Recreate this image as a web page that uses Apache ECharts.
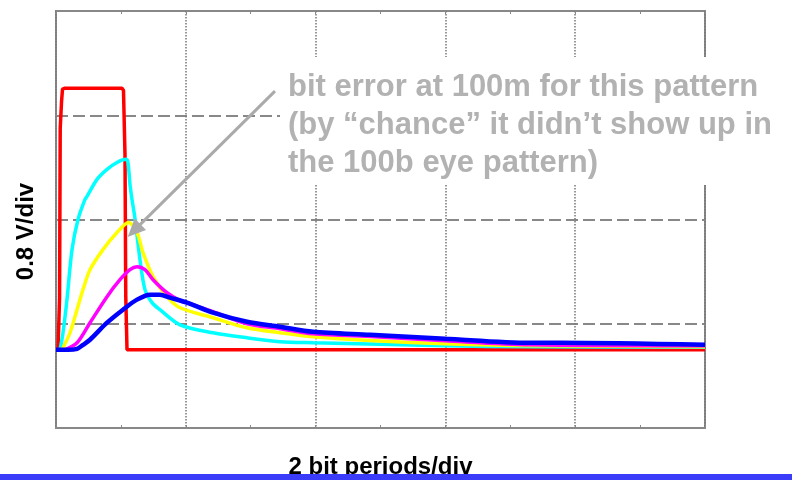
<!DOCTYPE html>
<html>
<head>
<meta charset="utf-8">
<script src="https://cdn.jsdelivr.net/npm/echarts@6/dist/echarts.min.js"></script>
<style>
html,body{margin:0;padding:0;background:#fff;}
#chart{width:792px;height:480px;}
</style>
</head>
<body>
<div id="chart"></div>
<script>
// x in bit periods (2 per division), y in volts (0.8 V per division)
const xAxisName = '2 bit periods/div';
const yAxisName = '0.8 V/div';
const annotationText = ['bit error at 100m for this pattern', '(by \u201cchance\u201d it didn\u2019t show up in', 'the 100b eye pattern)'];

const redData = [[0.0,0.6],[0.031,0.6],[0.055,1.0],[0.065,2.3],[0.085,2.5],[0.1,2.6],[0.14,2.608],[1.017,2.608],[1.04,2.59],[1.063,2.1],[1.075,1.01],[1.094,0.6],[4.0,0.6],[7.3,0.6],[10.0,0.6]];
const cyanData = [[0.062,0.6],[0.108,0.731],[0.169,0.985],[0.247,1.369],[0.339,1.6],[0.447,1.754],[0.478,1.777],[0.632,1.908],[0.786,1.985],[0.94,2.038],[1.079,2.062],[1.109,2.038],[1.14,1.869],[1.171,1.754],[1.217,1.608],[1.294,1.292],[1.371,1.062],[1.479,0.962],[1.602,0.908],[1.911,0.792],[2.419,0.731],[2.943,0.692],[3.451,0.662],[3.96,0.654],[4.992,0.642],[5.994,0.631],[7.304,0.623],[10.0,0.619]];
const yellowData = [[0.092,0.6],[0.216,0.731],[0.324,0.908],[0.416,1.062],[0.524,1.215],[0.724,1.369],[0.94,1.5],[1.12,1.577],[1.248,1.5],[1.341,1.346],[1.495,1.162],[1.71,1.008],[1.911,0.923],[2.419,0.846],[2.943,0.769],[3.451,0.731],[3.96,0.7],[4.915,0.669],[5.994,0.646],[7.304,0.631],[10.0,0.623]];
const magentaData = [[0.139,0.6],[0.324,0.654],[0.524,0.808],[0.786,1.008],[0.986,1.138],[1.14,1.215],[1.248,1.238],[1.371,1.215],[1.495,1.138],[1.71,1.038],[1.911,0.977],[2.018,0.962],[2.419,0.892],[2.943,0.8],[3.451,0.762],[3.96,0.723],[4.915,0.7],[5.994,0.669],[7.304,0.638],[10.0,0.631]];
const blueData = [[0.0,0.6],[0.185,0.6],[0.324,0.608],[0.416,0.638],[0.524,0.677],[0.786,0.808],[1.032,0.908],[1.248,0.985],[1.448,1.023],[1.602,1.023],[1.757,1.0],[2.018,0.962],[2.419,0.885],[2.943,0.815],[3.451,0.777],[3.96,0.738],[4.838,0.715],[5.994,0.685],[7.304,0.654],[7.766,0.654],[10.0,0.638]];
const arrowFrom = [3.374, 2.585];
const arrowTo = [1.202, 1.515];

const FONT = '"Liberation Sans", Arial, sans-serif';
const chart = echarts.init(document.getElementById('chart'), null, {renderer: 'canvas'});

function lineSeries(name, data, color, width, smooth) {
  return {
    name: name, type: 'line', data: data, showSymbol: false, symbol: 'none',
    smooth: smooth, lineStyle: {color: color, width: width}, itemStyle: {color: color},
    silent: true, animation: false, clip: true
  };
}

const series = [
  lineSeries('red', redData, '#ff0000', 3.5, false),
  lineSeries('cyan', cyanData, '#00ffff', 3.5, 0.3),
  lineSeries('yellow', yellowData, '#ffff00', 3.5, 0.3),
  lineSeries('magenta', magentaData, '#ff00ff', 3.5, 0.3),
  lineSeries('blue', blueData, '#0000ff', 4.5, 0.3)
];
series[4].markLine = {
  silent: true, animation: false,
  symbol: ['none', 'triangle'], symbolSize: [16, 18],
  label: {show: false},
  lineStyle: {color: '#aaaaaa', width: 3, type: 'solid'},
  data: [[{coord: arrowFrom}, {coord: arrowTo}]]
};

const option = {
  backgroundColor: '#ffffff',
  animation: false,
  grid: {left: 56, top: 11, width: 649, height: 417, outerBoundsMode: 'none', containLabel: false,
    show: true, borderColor: '#888888', borderWidth: 2, backgroundColor: 'transparent'},
  xAxis: [
    {type: 'value', min: 0, max: 10, interval: 2, position: 'bottom',
      axisLine: {show: false}, axisLabel: {show: false},
      axisTick: {show: true, inside: true, length: 3, lineStyle: {color: '#888'}},
      minorTick: {show: true, splitNumber: 2, length: 3, lineStyle: {color: '#888', width: 1}},
      splitLine: {show: true, lineStyle: {type: 'dotted', color: '#777', width: 1.5}},
      name: xAxisName, nameLocation: 'middle', nameGap: 27,
      nameTextStyle: {fontFamily: FONT, fontWeight: 'bold', fontSize: 24, color: '#000'}},
    {type: 'value', min: 0, max: 10, interval: 2, position: 'top',
      axisLine: {show: false}, axisLabel: {show: false},
      axisTick: {show: true, inside: true, length: 3, lineStyle: {color: '#888'}},
      minorTick: {show: true, splitNumber: 2, length: 3, lineStyle: {color: '#888', width: 1}},
      splitLine: {show: false}}
  ],
  yAxis: {type: 'value', min: 0, max: 3.2, interval: 0.8,
    axisLine: {show: false}, axisLabel: {show: false}, axisTick: {show: false},
    splitLine: {show: true, lineStyle: {type: [12, 5], color: '#888', width: 2}},
    name: yAxisName, nameLocation: 'middle', nameGap: 18, nameRotate: 90,
    nameTextStyle: {fontFamily: FONT, fontWeight: 'bold', fontSize: 24, color: '#000', padding: [0, 24, 0, 0]}},
  series: series,
  graphic: [
    {type: 'rect', left: 280, top: 57, z: 50, silent: true, shape: {width: 512, height: 128}, style: {fill: '#ffffff'}},
    {type: 'text', left: 288, top: 68, z: 51, silent: true,
      style: {text: annotationText.join('\n'), fontFamily: FONT, fontWeight: 'bold', fontSize: 31, lineHeight: 38, fill: '#b2b2b2'}},
    {type: 'rect', left: 0, top: 474, z: 100, silent: true, shape: {width: 792, height: 6}, style: {fill: '#3b3bfa'}}
  ]
};
chart.setOption(option);
</script>
</body>
</html>
